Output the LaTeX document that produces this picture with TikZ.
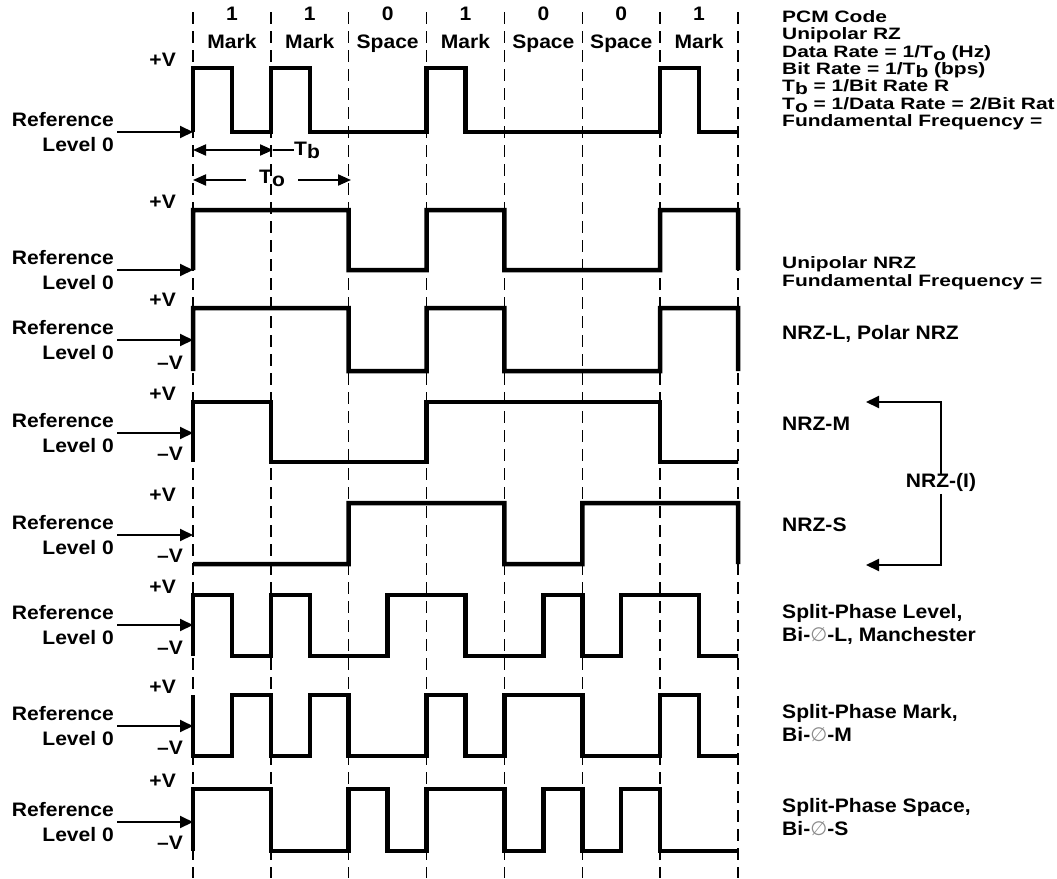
\documentclass[tikz,border=0pt]{standalone}
\usepackage{fontspec}
\setmainfont{Liberation Sans}[FakeStretch=1.08]
\newfontfamily\infofont{Liberation Sans}[FakeStretch=1.27]
\newfontfamily\phifont{DejaVu Sans}
\usetikzlibrary{arrows.meta}
\newcommand{\Tsub}[1]{T\raisebox{-.3ex}{#1}}
\newcommand{\bi}[1]{Bi-{\phifont\mdseries\color{black!45}∅}-#1}
% hi y, lo y, start level, half-bit levels, end level
\newcommand{\wave}[5]{%
  \draw[sig] (193,{#2+#3*(#1-#2)})
    \foreach \l [count=\i from 0] in {#4} {
      -- ({193+\i*38.93},{#2+\l*(#1-#2)}) -- ({193+(\i+1)*38.93},{#2+\l*(#1-#2)})}
    -- (738,{#2+#5*(#1-#2)});}

\begin{document}
\begin{tikzpicture}[x=1pt,y=-1pt,
  font=\fontsize{19.5}{25}\selectfont\bfseries,
  sig/.style={line width=4.5pt},
  bitline/.style={line width=1.5pt,dash pattern=on 12pt off 7pt},
  conn/.style={line width=2pt,-{Triangle[length=13pt,width=12pt]}},
  dimarrow/.style={line width=2pt,{Triangle[length=13pt,width=11pt]}-{Triangle[length=13pt,width=11pt]}},
  lbl/.style={inner sep=0pt,text height=0.72em,text depth=0pt},
  info/.style={lbl,anchor=west},
  note/.style={info,font=\infofont\fontsize{16.5}{17}\selectfont\bfseries},
  reflbl/.style={align=right,anchor=east,inner sep=0pt}]
  \useasboundingbox (0,0) rectangle (1057,878);
  \clip (0,0) rectangle (1057,878);
  \fill[white] (0,0) rectangle (1057,878);

  % bit cells
  \foreach \k in {0,...,7}
    \draw[bitline] ({193+\k*77.86},12) -- ({193+\k*77.86},878);
  \foreach \b/\n [count=\k] in {1/Mark,1/Mark,0/Space,1/Mark,0/Space,0/Space,1/Mark}{
    \node[lbl] (bit\k) at ({193+(\k-.5)*77.86},17) {\b};
    \node[lbl] (cell\k) at ({193+(\k-.5)*77.86},45) {\n};
  }

  % waveforms
  \wave{68}{132}{0}{1,0,1,0,0,0,1,0,0,0,0,0,1,0}{0}
  \wave{210}{270}{0}{1,1,1,1,0,0,1,1,0,0,0,0,1,1}{0}
  \wave{308}{371}{0}{1,1,1,1,0,0,1,1,0,0,0,0,1,1}{0}
  \wave{402}{462}{0}{1,1,0,0,0,0,1,1,1,1,1,1,0,0}{0}
  \wave{503}{564}{0}{0,0,0,0,1,1,1,1,0,0,1,1,1,1}{0}
  \wave{595}{656}{0}{1,0,1,0,0,1,1,0,0,1,0,1,1,0}{0}
  \wave{695}{756}{1}{0,1,0,1,0,0,1,0,1,1,0,0,1,0}{0}
  \wave{789}{851}{0}{1,1,0,0,1,0,1,1,0,1,0,1,0,0}{0}

  % Tb and To
  \coordinate (tb0) at (193,150);
  \coordinate (tb1) at (273,150);
  \node[lbl,anchor=west] (tb) at (294,152) {\Tsub{b}};
  \draw[dimarrow] (tb0) -- (tb1);
  \draw[line width=2pt] (tb1) -- (tb.west |- tb1);
  \coordinate (to0) at (193,180);
  \coordinate (to1) at (351,180);
  \draw[dimarrow] (to0) -- node[lbl,fill=white,inner xsep=13pt] (to) {\Tsub{o}} (to1);

  % levels
  \foreach \k/\y in {1/132,2/270,3/340,4/433,5/535,6/625,7/726,8/822}{
    \node[reflbl] (lvl\k) at (114,\y) {Reference\\Level 0};
    \coordinate (in\k) at (193,\y);
    \draw[conn,shorten <=3pt] (lvl\k.east) -- (in\k);
  }
  \foreach \k/\y in {1/68,2/210,3/308,4/402,5/503,6/595,7/695,8/789}
    \node[lbl,anchor=east] (pv\k) at (176,{\y-5}) {+V};
  \foreach \k/\y in {3/371,4/462,5/564,6/656,7/756,8/851}
    \node[lbl,anchor=east] (mv\k) at (183,{\y-5}) {–V};

  % code names
  \node[note] (pcm) at (782,19) {PCM Code};
  \node[note] (urz) at (782,36) {Unipolar RZ};
  \node[note] (drate) at (782,54) {Data Rate = 1/\Tsub{o} (Hz)};
  \node[note] (brate) at (782,71) {Bit Rate = 1/\Tsub{b} (bps)};
  \node[note] (tbdef) at (782,88) {\Tsub{b} = 1/Bit Rate R};
  \node[note] (todef) at (782,106) {\Tsub{o} = 1/Data Rate = 2/Bit Rat};
  \node[note] (fund1) at (782,123) {Fundamental Frequency =};
  \node[note] (unrz) at (782,265) {Unipolar NRZ};
  \node[note] (fund2) at (782,283) {Fundamental Frequency =};
  \node[info] (nrzl) at (782,336) {NRZ-L, Polar NRZ};
  \node[info] (nrzm) at (782,427) {NRZ-M};
  \node[info] (nrzs) at (782,528) {NRZ-S};
  \node[info] (spl1) at (782,615) {Split-Phase Level,};
  \node[info] (spl2) at (782,638) {\bi{L}, Manchester};
  \node[info] (spm1) at (782,715) {Split-Phase Mark,};
  \node[info] (spm2) at (782,738) {\bi{M}};
  \node[info] (sps1) at (782,809) {Split-Phase Space,};
  \node[info] (sps2) at (782,832) {\bi{S}};

  % NRZ-(I)
  \node[lbl,inner sep=6pt] (nrzi) at (941,484) {NRZ-(I)};
  \coordinate (mtop) at (866,402);
  \coordinate (mbot) at (866,565);
  \draw[conn] (nrzi.north) |- (mtop);
  \draw[conn] (nrzi.south) |- (mbot);
\end{tikzpicture}
\end{document}
